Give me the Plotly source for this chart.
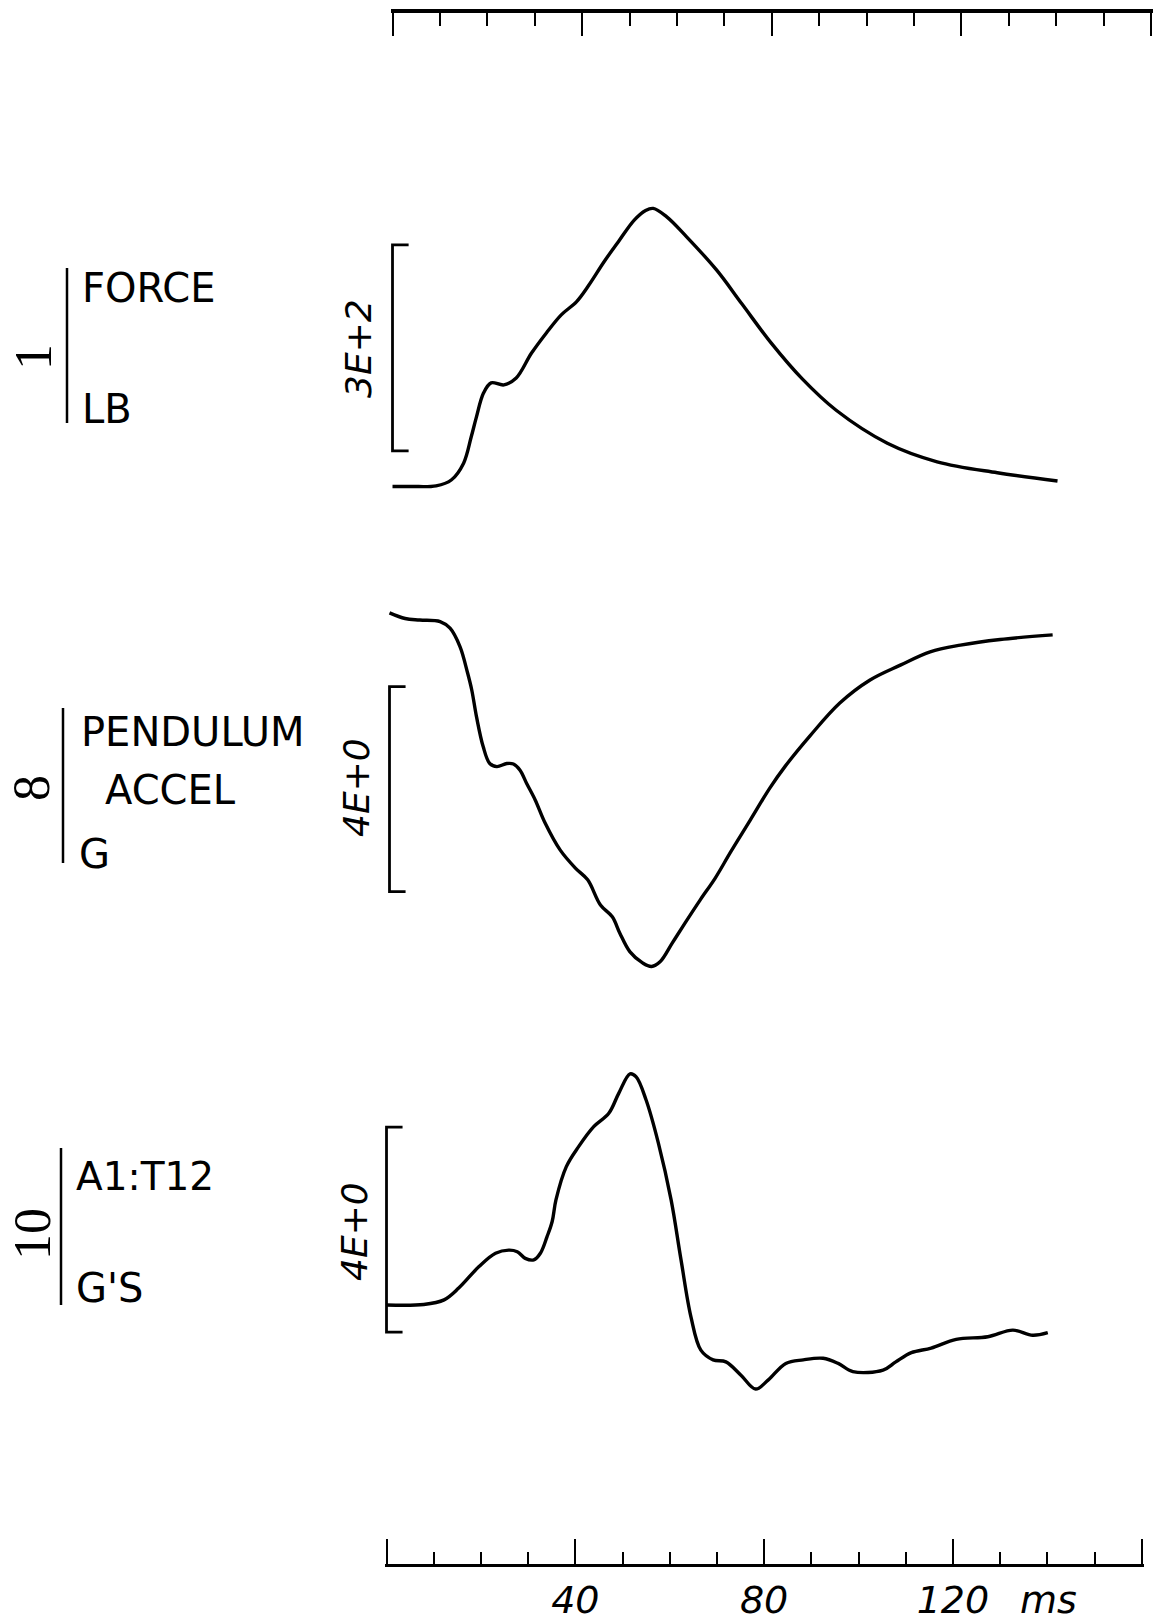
import plotly.graph_objects as go

# ---------------- data ----------------
time_axis_ticks = [0, 40, 80, 120, 160]
time_axis_text = ["", "40", "80", "120", ""]

force_t = [0, 4, 9.2, 12.4, 15.0, 16.6, 17.7, 19.2, 20.8, 23.5, 26.1, 29.3, 32.5, 35.6, 38.8,
           41.4, 44.6, 47.8, 51.0, 53.4, 55.0, 57.8, 62.0, 68.4, 73.7, 80.0, 86.4, 93.6,
           104.4, 114.9, 127.6, 140.3]
force_lb = [0, 0, 1, 9.5, 34, 72, 101, 136, 151, 148, 158, 194, 224, 250, 269,
            293, 327, 358, 388, 402, 405, 393, 364, 315, 266, 208, 157, 111,
            63, 36, 20, 8]

accel_t = [0, 3.3, 6.4, 10.7, 12.8, 14.9, 16.5, 17.4, 18.4, 19.8, 21.2, 22.7, 24.8, 26.2,
           27.6, 29.0, 30.8, 32.9, 36.1, 39.3, 41.9, 44.6, 47.1, 48.7, 50.8, 53.5, 55.4,
           57.2, 59.8, 62.5, 65.7, 68.9, 72.1, 76.3, 80.4, 83.6, 88.9, 95.2, 101.6, 108.0,
           114.3, 120.7, 129.1, 140.2]
accel_g = [0.12, 0.01, -0.02, -0.05, -0.18, -0.54, -1.05, -1.39, -1.91, -2.49, -2.82, -2.88,
           -2.82, -2.83, -2.95, -3.21, -3.53, -3.98, -4.51, -4.86, -5.09, -5.58, -5.81,
           -6.13, -6.49, -6.71, -6.78, -6.69, -6.32, -5.93, -5.48, -5.05, -4.55, -3.92,
           -3.30, -2.88, -2.28, -1.64, -1.19, -0.90, -0.64, -0.51, -0.40, -0.31]

a1t12_t = [0, 7.9, 12.2, 15.3, 19.6, 23.1, 25.9, 27.7, 29.4, 31.2, 32.6, 34.0, 35.1, 35.9,
           38.1, 40.7, 43.9, 47.1, 49.2, 51.6, 52.9, 55.0, 57.6, 60.3, 62.4, 64.5, 66.6,
           69.2, 71.9, 75.1, 78.2, 80.9, 84.6, 88.3, 92.5, 95.7, 98.8, 105.2, 107.9, 111.2,
           115.4, 120.7, 127.4, 132.7, 136.9, 140.1]
a1t12_g = [0, 0.01, 0.10, 0.33, 0.75, 1.01, 1.07, 1.04, 0.91, 0.88, 1.01, 1.33, 1.63, 2.05,
           2.70, 3.09, 3.48, 3.74, 4.13, 4.51, 4.45, 4.00, 3.16, 2.05, 0.88, -0.23, -0.88,
           -1.07, -1.11, -1.37, -1.64, -1.46, -1.14, -1.07, -1.04, -1.14, -1.30, -1.27,
           -1.11, -0.93, -0.84, -0.67, -0.62, -0.49, -0.59, -0.54]

# channel labels and scale bars
channel_ids = ["1", "8", "10"]
scale_labels = ["3E+2", "4E+0", "4E+0"]
scale_values = [300, 4, 4]
scale_bases = [52, -5.32, -0.53]

# ---------------- layout helpers ----------------
W, H = 1154, 1623
INK = "black"
PAD = 0.4  # ms of axis line beyond the end ticks


def fx(px):
    return px / W


def fy(py):
    return 1 - py / H


def x_domain(x0_px, px_per_ms):
    return [fx(x0_px - PAD * px_per_ms), fx(x0_px + (160 + PAD) * px_per_ms)]


X_RANGE = [-PAD, 160 + PAD]


def y_range(zero_px, px_per_unit):
    return [-(H - zero_px) / px_per_unit, zero_px / px_per_unit]


fig = go.Figure()

# force drawn against the top time axis (x2), A1:T12 against the bottom one (x),
# pendulum accel against its own (hidden) time axis x4
trace_axes = [("x2", "y3"), ("x4", "y4"), ("x", "y5")]
series = [(force_t, force_lb), (accel_t, accel_g), (a1t12_t, a1t12_g)]
for (xa, ya), (t, v) in zip(trace_axes, series):
    fig.add_trace(go.Scatter(
        x=t, y=v, mode="lines", xaxis=xa, yaxis=ya,
        line=dict(color=INK, width=3.4, shape="spline", smoothing=1.0),
        hoverinfo="skip", showlegend=False))

panel_zero = [486.5, 619, 1305]
panel_ppu = [206 / 300, 205 / 4, 205 / 4]

layout = dict(
    width=W, height=H, autosize=False,
    margin=dict(l=0, r=0, t=0, b=0, autoexpand=False),
    paper_bgcolor="white", plot_bgcolor="rgba(0,0,0,0)",
    showlegend=False,
    # bottom time axis (ticks rise from the line)
    xaxis=dict(domain=x_domain(386.5, 4.72), range=X_RANGE, anchor="free",
               position=fy(1565), automargin=False,
               showline=True, linewidth=3, linecolor=INK, mirror=False,
               ticks="inside", ticklen=25, tickwidth=2, tickcolor=INK,
               tickmode="array", tickvals=time_axis_ticks, ticktext=time_axis_text,
               tickfont=dict(family="DejaVu Sans", size=38, color=INK, style="italic"),
               ticklabelstandoff=0,
               minor=dict(ticks="inside", ticklen=12, tickwidth=2, tickcolor=INK,
                          dtick=10, tick0=0, showgrid=False),
               showgrid=False, zeroline=False, fixedrange=True),
    # top time axis (ticks hang from the line)
    xaxis2=dict(domain=x_domain(392.5, 4.74), range=X_RANGE, anchor="free",
                position=fy(11), side="top", automargin=False,
                showline=True, linewidth=3.5, linecolor=INK,
                ticks="inside", ticklen=23, tickwidth=2.2, tickcolor=INK,
                tickmode="linear", dtick=40, tick0=0, showticklabels=False,
                minor=dict(ticks="inside", ticklen=13, tickwidth=2.2, tickcolor=INK,
                           dtick=10, tick0=0, showgrid=False),
                showgrid=False, zeroline=False, fixedrange=True),
    xaxis4=dict(domain=x_domain(389.5, 4.73), range=X_RANGE, anchor="y4",
                visible=False, fixedrange=True, automargin=False),
)
for i in range(3):
    n = i + 3
    layout[f"yaxis{n}"] = dict(domain=[0, 1], range=y_range(panel_zero[i], panel_ppu[i]),
                               anchor="free", position=0, visible=False, fixedrange=True,
                               automargin=False)
fig.update_layout(**layout)

# scale-bar brackets (in each channel's own units)
shapes = []
for (xa, ya), lo_v, val in zip(trace_axes, scale_bases, scale_values):
    hi_v = lo_v + val
    tick = 3.4
    shapes.append(dict(type="path", xref=xa, yref=ya,
                       path=f"M {tick},{hi_v} L 0,{hi_v} L 0,{lo_v} L {tick},{lo_v}",
                       line=dict(color=INK, width=2.8)))

# channel label divider lines
divs = [(67, 268, 423), (63, 708, 863), (61, 1148, 1305)]
for x, y0, y1 in divs:
    shapes.append(dict(type="line", xref="paper", yref="paper",
                       x0=fx(x), x1=fx(x), y0=fy(y0), y1=fy(y1),
                       line=dict(color=INK, width=2.5)))
fig.update_layout(shapes=shapes)

ann = []


def add_text(text, x, y, size, family="DejaVu Sans", angle=0, xanchor="left",
             yanchor="middle"):
    ann.append(dict(text=text, x=fx(x), y=fy(y), xref="paper", yref="paper",
                    showarrow=False, textangle=angle, xanchor=xanchor, yanchor=yanchor,
                    font=dict(family=family, size=size, color=INK)))


# channel numbers (rotated serif)
id_pos = [(33, 357), (31, 788), (32, 1234)]
for txt, (x, y) in zip(channel_ids, id_pos):
    add_text(txt, x, y, 52, family="Liberation Serif", angle=-90, xanchor="center")

# channel names / units
add_text("FORCE", 80, 288, 40)
add_text("LB", 80, 409, 40)
add_text("PENDULUM", 79, 732, 40)
add_text("ACCEL", 103, 790, 40)
add_text("G", 77, 854, 40)
add_text("A1:T12", 74, 1176, 39)
add_text("G'S", 74, 1288, 40)

# scale labels (rotated italic)
scale_pos = [(358, 349), (356, 788), (354, 1232)]
for txt, (x, y) in zip(scale_labels, scale_pos):
    add_text(f"<i>{txt}</i>", x, y, 36, angle=-90, xanchor="center")

# time unit
add_text("<i>ms</i>", 1048, 1600, 38, xanchor="center")

fig.update_layout(annotations=ann)

fig.write_html("out.html")
